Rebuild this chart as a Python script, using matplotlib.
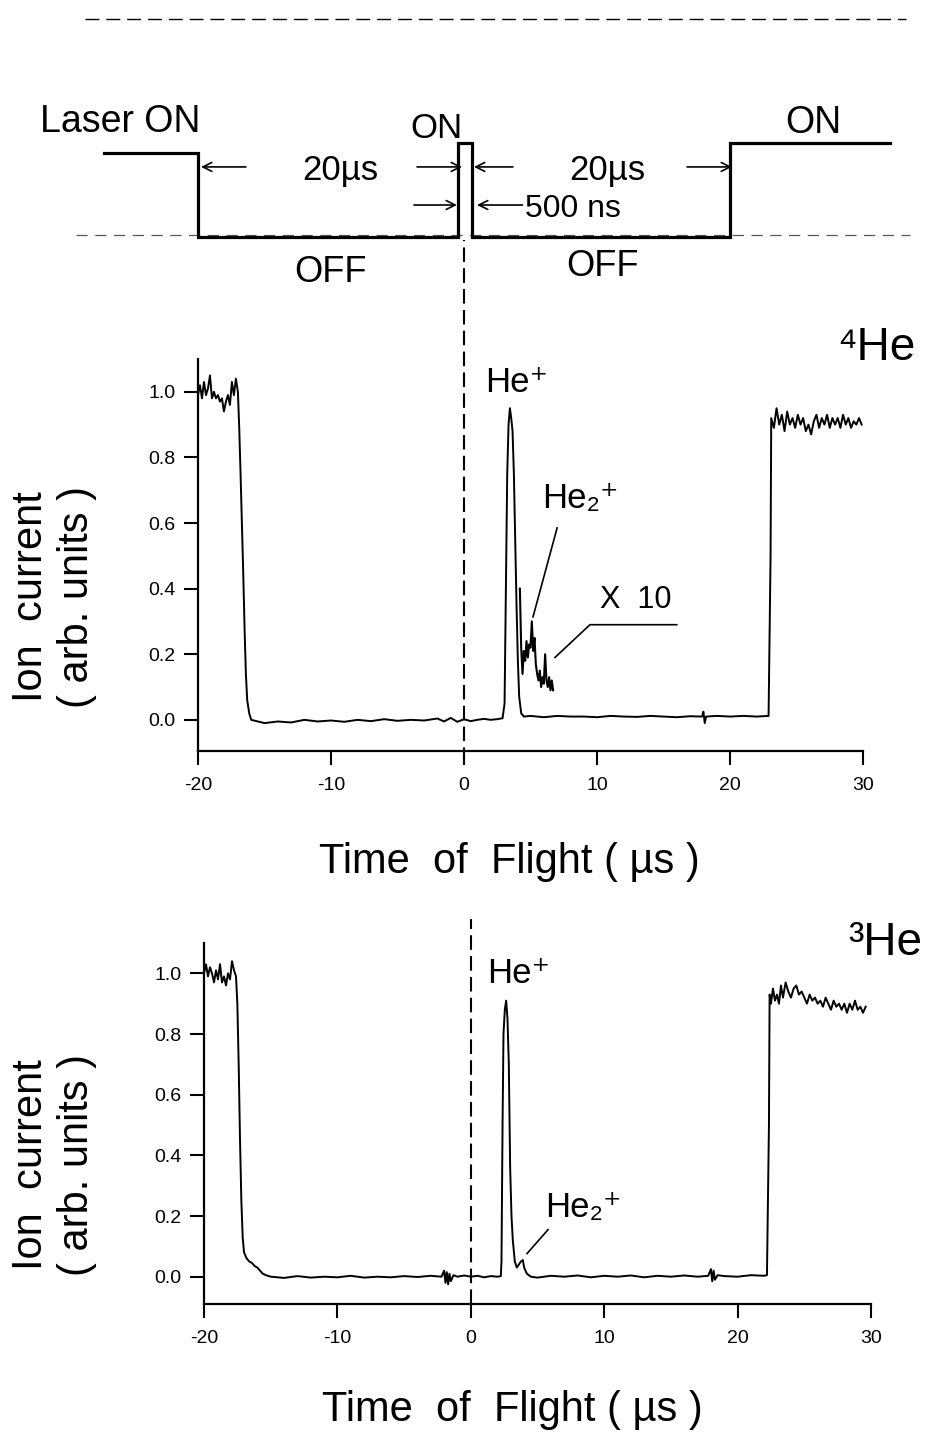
import matplotlib
matplotlib.use('Agg')
import matplotlib.pyplot as plt

plt.rcParams['font.family'] = ['Liberation Sans', 'DejaVu Sans']

# ---- data ----
# laser gate (time in us, level 0 = off, 1 = on)
laser_t = [-27.1, -20.0, -20.0, -0.45, -0.45, 0.6, 0.6, 20.0, 20.0, 32.0]
laser_lvl = [0.89, 0.89, 0.0, 0.0, 1.0, 1.0, 0.0, 0.0, 1.0, 1.0]

# 4He trace
he4_t = [-20.0, -19.85, -19.7, -19.55, -19.4, -19.25, -19.1, -18.95, -18.8, -18.65,
         -18.5, -18.35, -18.2, -18.05, -17.9, -17.75, -17.6, -17.45, -17.3, -17.15,
         -17.0, -16.9, -16.8, -16.7, -16.6, -16.5, -16.4, -16.3, -16.15, -16.0,
         -15.5, -15.0, -14.0, -13.0, -12.0, -11.0, -10.0, -9.0, -8.0, -7.0,
         -6.0, -5.0, -4.0, -3.0, -2.0, -1.5, -1.0, -0.5, 0.0, 0.5,
         1.0, 1.5, 2.0, 2.5, 2.9, 3.05, 3.15, 3.25, 3.35, 3.45,
         3.55, 3.65, 3.75, 3.85, 3.95, 4.05, 4.15, 4.3, 4.5, 5.0,
         6.0, 7.0, 8.0, 9.0, 10.0, 11.0, 12.0, 13.0, 14.0, 15.0,
         16.0, 17.0, 17.9, 18.0, 18.1, 18.2, 19.0, 20.0, 21.0, 22.0,
         22.9, 23.05, 23.1, 23.3, 23.5, 23.7, 23.9, 24.1, 24.3, 24.5,
         24.7, 24.9, 25.1, 25.3, 25.5, 25.7, 25.9, 26.1, 26.3, 26.5,
         26.7, 26.9, 27.1, 27.3, 27.5, 27.7, 27.9, 28.1, 28.3, 28.5,
         28.7, 28.9, 29.1, 29.3, 29.5, 29.7, 29.9]
he4_v = [0.99, 1.02, 0.98, 1.03, 0.99, 1.01, 1.05, 0.98, 1.0, 0.98,
         0.99, 0.97, 0.98, 0.94, 0.97, 0.99, 0.96, 1.03, 0.99, 1.04,
         1.0, 0.89, 0.75, 0.6, 0.45, 0.28, 0.14, 0.06, 0.02, 0.0,
         -0.005, -0.01, -0.005, -0.008, 0.0, -0.005, -0.002, -0.006, 0.0, -0.004,
         0.002, -0.003, 0.0, -0.002, 0.004, -0.005, 0.006, -0.006, 0.002, -0.004,
         0.0, 0.003, 0.0, 0.002, 0.005, 0.05, 0.4, 0.75, 0.9, 0.95,
         0.92, 0.88, 0.75, 0.55, 0.35, 0.18, 0.07, 0.02, 0.01, 0.012,
         0.008, 0.012, 0.01, 0.01, 0.008, 0.012, 0.01, 0.009, 0.012, 0.01,
         0.008, 0.011, 0.01, 0.025, -0.01, 0.01, 0.012, 0.01, 0.012, 0.01,
         0.012, 0.5, 0.92, 0.89, 0.95, 0.9, 0.93, 0.88, 0.94, 0.9,
         0.92, 0.89, 0.93, 0.9, 0.92, 0.88, 0.9, 0.87, 0.91, 0.93,
         0.89, 0.92, 0.9, 0.93, 0.89, 0.92, 0.9, 0.92, 0.89, 0.93,
         0.9, 0.92, 0.89, 0.91, 0.9, 0.92, 0.9]

# 4He dimer region magnified x10
x10_t = [4.2, 4.3, 4.4, 4.5, 4.6, 4.7, 4.8, 4.9, 5.0, 5.1, 5.2, 5.3, 5.4,
         5.5, 5.6, 5.7, 5.8, 5.9, 6.0, 6.1, 6.2, 6.3, 6.4, 6.5, 6.6, 6.7]
x10_v = [0.40, 0.22, 0.14, 0.21, 0.18, 0.24, 0.19, 0.23, 0.22, 0.30, 0.21, 0.25, 0.17,
         0.14, 0.12, 0.15, 0.10, 0.13, 0.11, 0.20, 0.12, 0.10, 0.13, 0.09, 0.12, 0.09]

# 3He trace
he3_t = [-20.0, -19.85, -19.7, -19.55, -19.4, -19.25, -19.1, -18.95, -18.8, -18.65,
         -18.5, -18.35, -18.2, -18.05, -17.9, -17.75, -17.6, -17.5, -17.4, -17.3,
         -17.2, -17.1, -17.0, -16.8, -16.6, -16.4, -16.2, -16.0, -15.8, -15.6,
         -15.3, -15.0, -14.0, -13.0, -12.0, -11.0, -10.0, -9.0, -8.0, -7.0,
         -6.0, -5.0, -4.0, -3.0, -2.2, -2.0, -1.9, -1.8, -1.7, -1.6,
         -1.5, -1.3, -1.0, -0.5, 0.0, 0.5, 1.0, 1.5, 2.0, 2.25,
         2.3, 2.38, 2.45, 2.55, 2.65, 2.75, 2.85, 2.95, 3.05, 3.15,
         3.3, 3.45, 3.6, 3.75, 3.9, 4.0, 4.2, 4.5, 5.0, 6.0,
         7.0, 8.0, 9.0, 10.0, 11.0, 12.0, 13.0, 14.0, 15.0, 16.0,
         17.0, 17.8, 18.0, 18.1, 18.2, 18.3, 18.5, 19.0, 20.0, 21.0,
         22.0, 22.2, 22.35, 22.4, 22.5, 22.65, 22.8, 22.95, 23.1, 23.25,
         23.4, 23.6, 23.8, 24.0, 24.2, 24.4, 24.6, 24.8, 25.0, 25.2,
         25.4, 25.6, 25.8, 26.0, 26.2, 26.4, 26.6, 26.8, 27.0, 27.2,
         27.4, 27.6, 27.8, 28.0, 28.2, 28.4, 28.6, 28.8, 29.0, 29.2,
         29.4, 29.6]
he3_v = [1.0, 1.03, 0.99, 1.02, 1.0, 0.97, 1.01, 0.98, 1.03, 0.97,
         0.99, 0.96, 1.0, 0.98, 1.04, 1.01, 0.99, 0.9, 0.7, 0.45,
         0.25, 0.13, 0.08, 0.06, 0.05, 0.045, 0.035, 0.03, 0.02, 0.01,
         0.004, 0.0, -0.004, 0.002, -0.003, 0.0, -0.002, 0.003, -0.003, 0.0,
         -0.002, 0.002, -0.001, 0.003, 0.0, 0.02, -0.02, 0.015, -0.025, 0.01,
         -0.015, 0.005, 0.0, 0.004, 0.0, 0.003, -0.002, 0.002, 0.0, 0.002,
         0.05, 0.5, 0.8, 0.88, 0.91, 0.85, 0.7, 0.36, 0.2, 0.12,
         0.05, 0.03, 0.04, 0.05, 0.055, 0.03, 0.01, 0.0, -0.003, 0.003,
         0.0, 0.004, -0.002, 0.003, 0.0, 0.004, -0.002, 0.003, 0.0, 0.004,
         0.0, 0.003, 0.025, -0.015, 0.02, -0.01, 0.005, 0.002, 0.0, 0.005,
         0.003, 0.005, 0.5, 0.93, 0.9, 0.95, 0.91, 0.93, 0.9, 0.96,
         0.92, 0.97, 0.94, 0.92, 0.95, 0.96, 0.93, 0.94, 0.92, 0.9,
         0.93, 0.91, 0.92, 0.9, 0.91, 0.89, 0.92, 0.9, 0.88, 0.91,
         0.89, 0.9, 0.88, 0.9, 0.87, 0.9, 0.88, 0.91, 0.88, 0.89,
         0.87, 0.89]

x_ticks = [-20, -10, 0, 10, 20, 30]
x_labels = ['-20', '-10', '0', '10', '20', '30']
y_ticks = [0.0, 0.2, 0.4, 0.6, 0.8, 1.0]
y_labels = ['0.0', '0.2', '0.4', '0.6', '0.8', '1.0']

W, H = 936, 1432


def px_box(left, top, right, bottom):
    # figure-pixel box -> add_axes rect
    return [left / W, 1 - bottom / H, (right - left) / W, (bottom - top) / H]


def style_axes(ax, ymin):
    ax.spines['top'].set_visible(False)
    ax.spines['right'].set_visible(False)
    ax.spines['left'].set_linewidth(1.6)
    ax.spines['bottom'].set_linewidth(1.6)
    ax.set_xlim(-20, 30)
    ax.set_ylim(ymin, 1.1)
    ax.set_xticks(x_ticks)
    ax.set_xticklabels(x_labels)
    ax.set_yticks(y_ticks)
    ax.set_yticklabels(y_labels)
    ax.tick_params(direction='out', length=10, width=1.5, labelsize=14)
    ax.tick_params(axis='x', pad=9)
    ax.tick_params(axis='y', pad=6)


fig = plt.figure(figsize=(9.36, 14.32), dpi=100)

# timing diagram axes (same time scale as the upper panel)
ax0 = fig.add_axes(px_box(198, 0, 863, 300))
ax0.set_xlim(-20, 30)
ax0.set_ylim(-0.67, 2.52)
ax0.axis('off')

ax0.plot([-28.5, 33.2], [2.32, 2.32], color='k', lw=1.0, ls=(0, (10, 5)), clip_on=False)
ax0.plot([-29.2, 33.5], [0.02, 0.02], color='0.35', lw=0.9, ls=(0, (9, 6)), clip_on=False)
ax0.plot(laser_t, laser_lvl, color='k', lw=2.3, solid_joinstyle='miter', clip_on=False)

arrow_kw = dict(arrowstyle='->', lw=1.2, color='k', shrinkA=0, shrinkB=0, mutation_scale=16)
ax0.annotate('', xy=(-19.77, 0.745), xytext=(-16.4, 0.745), arrowprops=arrow_kw)
ax0.annotate('', xy=(-0.15, 0.745), xytext=(-3.53, 0.745), arrowprops=arrow_kw)
ax0.annotate('', xy=(0.75, 0.745), xytext=(3.68, 0.745), arrowprops=arrow_kw)
ax0.annotate('', xy=(20.15, 0.745), xytext=(16.77, 0.745), arrowprops=arrow_kw)
ax0.annotate('', xy=(-0.53, 0.34), xytext=(-3.76, 0.34), arrowprops=arrow_kw)
ax0.annotate('', xy=(0.98, 0.34), xytext=(4.4, 0.34), arrowprops=arrow_kw)

ax0.text(-31.9, 1.117, 'Laser ON', fontsize=27, ha='left', va='baseline')
ax0.text(-2.1, 1.05, 'ON', fontsize=25, ha='center', va='baseline')
ax0.text(26.3, 1.106, 'ON', fontsize=27, ha='center', va='baseline')
ax0.text(-9.3, 0.606, '20µs', fontsize=25, ha='center', va='baseline')
ax0.text(10.75, 0.606, '20µs', fontsize=25, ha='center', va='baseline')
ax0.text(4.6, 0.213, '500 ns', fontsize=23, ha='left', va='baseline')
ax0.text(-10.0, -0.479, 'OFF', fontsize=26, ha='center', va='baseline')
ax0.text(10.4, -0.415, 'OFF', fontsize=26, ha='center', va='baseline')

# upper panel: 4He
ax1 = fig.add_axes(px_box(198, 359, 863, 751))
style_axes(ax1, -0.095)
ax1.plot(he4_t, he4_v, color='k', lw=1.4)
ax1.plot(x10_t, x10_v, color='k', lw=1.5)
ax1.plot([0, 0], [-0.128, 1.463], color='k', lw=1.5, ls=(0, (7, 3)), clip_on=False)
ax1.plot([7.0, 5.19], [0.585, 0.314], color='k', lw=1.2)
ax1.plot([16.0, 9.47, 6.84], [0.29, 0.29, 0.19], color='k', lw=1.2)
ax1.text(1.58, 1.0, 'He⁺', fontsize=25, ha='left', va='baseline')
ax1.text(5.86, 0.646, 'He₂⁺', fontsize=25, ha='left', va='baseline')
ax1.text(10.2, 0.341, 'X  10', fontsize=22, ha='left', va='baseline')
ax1.text(28.1, 1.098, '⁴He', fontsize=33, ha='left', va='baseline', clip_on=False)
ax1.text(-0.2165, 0.393, 'Ion  current\n( arb. units )', fontsize=30, rotation=90,
         ha='center', va='center', linespacing=1.2, transform=ax1.transAxes)
ax1.text(0.468, -0.283, 'Time  of  Flight ( µs )', fontsize=30, ha='center', va='center',
         transform=ax1.transAxes)

# lower panel: 3He
ax2 = fig.add_axes(px_box(204, 943, 871, 1304))
style_axes(ax2, -0.09)
ax2.plot(he3_t, he3_v, color='k', lw=1.4)
ax2.plot([0, 0], [-0.09, 1.18], color='k', lw=1.5, ls=(0, (7, 3)), clip_on=False)
ax2.plot([5.79, 4.21], [0.155, 0.076], color='k', lw=1.2)
ax2.text(1.21, 0.967, 'He⁺', fontsize=25, ha='left', va='baseline')
ax2.text(5.56, 0.197, 'He₂⁺', fontsize=25, ha='left', va='baseline')
ax2.text(28.3, 1.06, '³He', fontsize=33, ha='left', va='baseline', clip_on=False)
ax2.text(-0.225, 0.385, 'Ion  current\n( arb. units )', fontsize=30, rotation=90,
         ha='center', va='center', linespacing=1.2, transform=ax2.transAxes)
ax2.text(0.463, -0.294, 'Time  of  Flight ( µs )', fontsize=30, ha='center', va='center',
         transform=ax2.transAxes)

fig.savefig('out.png', dpi=100)
